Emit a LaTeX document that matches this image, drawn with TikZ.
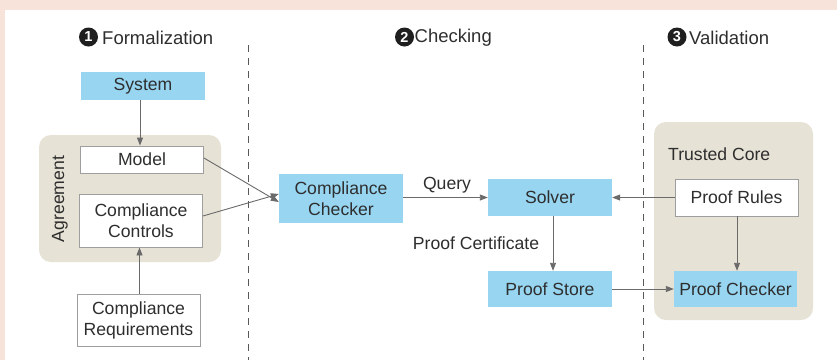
\documentclass[tikz,border=0pt]{standalone}
\usepackage{fontspec}
\setmainfont{Liberation Sans}
\usetikzlibrary{arrows.meta,calc}
\definecolor{peach}{HTML}{F8E3DB}
\definecolor{skyfill}{HTML}{97D5F1}
\definecolor{panel}{HTML}{E6E2D5}
\definecolor{ink}{HTML}{2E2E2E}
\definecolor{rim}{HTML}{9E9E9E}
\definecolor{wire}{HTML}{6A6A6A}
\tikzset{
  x=1pt, y=-1pt,
  every node/.style={font=\fontsize{17.6}{20}\selectfont, text=ink, inner sep=0pt, align=center},
  bluebox/.style={fill=skyfill, minimum width=124pt},
  whitebox/.style={fill=white, draw=rim, line width=0.9pt, minimum width=123pt},
  group/.style={fill=panel, rounded corners=12pt},
  arr/.style={draw=wire, line width=0.9pt, -{Triangle[length=8pt,width=6pt]}},
  divider/.style={draw=black!65, line width=0.8pt, dash pattern=on 7pt off 6pt},
  badge/.style={circle, fill=black!88, minimum size=19pt, text=white, font=\fontsize{14.5}{14.5}\selectfont\bfseries},
  heading/.style={anchor=west, font=\fontsize{18.5}{20}\selectfont},
  tag/.style={font=\fontsize{17.6}{20}\selectfont}
}
\begin{document}
\begin{tikzpicture}
\useasboundingbox (0,0) rectangle (837,360);
% frame
\fill[peach] (0,0) rectangle (837,360);
\fill[white] (5,10) rectangle (837,360);

% column dividers
\draw[divider] (248,45) -- (248,360);
\draw[divider] (643,45) -- (643,360);

% column headings
\node[badge] (b1) at (88.5,37) {1};
\node[heading] (h1) at (102,37.5) {Formalization};
\node[badge] (b2) at (404.5,37) {2};
\node[heading] (h2) at (414.5,37.5) {Checking};
\node[badge] (b3) at (677,37) {3};
\node[heading] (h3) at (689,37.5) {Validation};

% grouping panels
\fill[group] (39,135) rectangle (221,262);
\node[rotate=90] (agr) at (60,199) {Agreement};
\fill[group] (654,122) rectangle (813,320);
\node[anchor=west] (tc) at (668,154) {Trusted Core};

% boxes
\node[bluebox, minimum height=28pt] (sys) at (143,86) {System};
\node[whitebox, minimum height=27pt] (model) at (142,159.5) {Model};
\node[whitebox, minimum height=53pt] (ctrl) at (141,220.5) {Compliance\\[1pt]Controls};
\node[whitebox, minimum height=52pt] (req) at (138.5,320) {Compliance\\[1pt]Requirements};
\node[bluebox, minimum height=49pt] (chk) at (341,198.5) {Compliance\\[1pt]Checker};
\node[bluebox, minimum height=37pt] (solver) at (550,197.5) {Solver};
\node[bluebox, minimum height=36pt] (store) at (550,289) {Proof Store};
\node[whitebox, minimum height=37pt] (rules) at (736.5,197.5) {Proof Rules};
\node[bluebox, minimum width=123pt, minimum height=36pt] (pchk) at (735.5,289) {Proof Checker};

% connector labels
\node[tag] (q) at (447,185) {Query};
\node[tag] (pc) at (476,243) {Proof Certificate};

% connectors
\draw[arr] ([xshift=-3pt]sys.south) -- ([xshift=-3pt]sys.south |- model.north);
\draw[arr] ([xshift=1pt]req.north) -- ([xshift=1pt]req.north |- ctrl.south);
\draw[arr] ([yshift=1.5pt]model.east) -- ([yshift=-3.5pt]chk.west);
\draw[arr] ([yshift=4.5pt]ctrl.east) -- ([yshift=4.5pt]chk.west);
\draw[arr] (chk.east |- solver.west) -- (solver.west);
\draw[arr] (rules.west) -- (solver.east);
\draw[arr] ([xshift=3pt]solver.south) -- ([xshift=3pt]solver.south |- store.north);
\draw[arr] (store.east) -- (store.east -| pchk.west);
\draw[arr] ([xshift=0.5pt]rules.south) -- ([xshift=0.5pt]rules.south |- pchk.north);
\end{tikzpicture}
\end{document}
